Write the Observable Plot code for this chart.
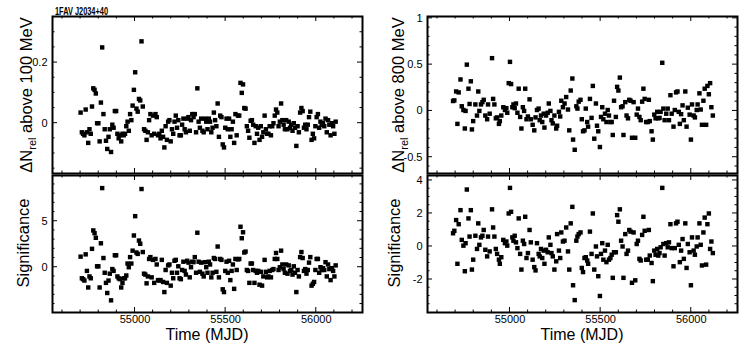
<!DOCTYPE html>
<html>
<head>
<meta charset="utf-8">
<script src="https://cdn.jsdelivr.net/npm/d3@7"></script>
<script src="https://cdn.jsdelivr.net/npm/@observablehq/plot@0.6"></script>
<style>
  html, body { margin: 0; padding: 0; background: #fff; }
  #root { position: relative; width: 747px; height: 349px; overflow: hidden; font-family: "Liberation Sans", Arial, Helvetica, sans-serif; }
  .panel { position: absolute; }
  #overlay { position: absolute; left: 0; top: 0; pointer-events: none; }
</style>
</head>
<body>
<div id="root"></div>
<script>
// ---------- DATA ----------
const sourceName = "1FAV J2034+40";

const leftTimes = [
54700,54707,54714,54721,54728,54735,54742,54749,54756,54763,
54770,54777,54784,54791,54798,54805,54812,54819,54826,54833,
54840,54847,54854,54861,54868,54875,54882,54889,54896,54903,
54910,54917,54924,54931,54938,54945,54952,54959,54966,54973,
54980,54987,54994,55001,55008,55015,55022,55029,55036,55043,
55050,55057,55064,55071,55078,55085,55092,55099,55106,55113,
55120,55127,55134,55141,55148,55155,55162,55169,55176,55183,
55190,55197,55204,55211,55218,55225,55232,55239,55246,55253,
55260,55267,55274,55281,55288,55295,55302,55309,55316,55323,
55330,55337,55344,55351,55358,55365,55372,55379,55386,55393,
55400,55407,55414,55421,55428,55435,55442,55449,55456,55463,
55470,55477,55484,55491,55498,55505,55512,55519,55526,55533,
55540,55547,55554,55561,55568,55575,55582,55589,55596,55603,
55610,55617,55624,55631,55638,55645,55652,55659,55666,55673,
55680,55687,55694,55701,55708,55715,55722,55729,55736,55743,
55750,55757,55764,55771,55778,55785,55792,55799,55806,55813,
55820,55827,55834,55841,55848,55855,55862,55869,55876,55883,
55890,55897,55904,55911,55918,55925,55932,55939,55946,55953,
55960,55967,55974,55981,55988,55995,56002,56009,56016,56023,
56030,56037,56044,56051,56058,56065,56072,56079,56086,56093,
56100,56107];

// Delta N_rel above 100 MeV
const dn100 = [
0.035,-0.03,-0.035,-0.04,0.045,-0.03,-0.065,-0.02,-0.035,0.055,
0.115,0.11,0.098,0.0,0.0,-0.06,0.068,0.25,0.03,-0.02,
-0.058,-0.085,-0.045,-0.02,-0.095,-0.005,-0.015,0.04,0.04,-0.035,
-0.05,-0.04,-0.06,-0.035,-0.04,-0.035,-0.01,0.005,-0.025,0.03,
0.01,0.058,0.11,0.168,0.048,0.038,0.08,0.075,0.27,0.055,
-0.02,-0.025,-0.055,-0.03,0.01,0.03,-0.04,0.025,-0.035,0.03,
0.02,-0.04,-0.035,-0.05,-0.025,-0.045,-0.08,-0.01,-0.055,0.005,
0.01,-0.06,-0.02,-0.035,0.005,0.025,-0.015,0.01,-0.04,-0.04,
-0.005,0.015,-0.02,-0.03,0.015,0.02,-0.025,0.01,0.03,0.02,
0.03,-0.03,0.115,0.005,-0.015,0.015,-0.025,-0.03,0.015,0.005,
-0.02,0.015,0.005,-0.03,-0.015,0.035,0.01,-0.01,0.065,-0.045,
0.025,0.02,-0.07,-0.08,-0.015,0.015,-0.02,0.015,-0.045,-0.02,
0.005,-0.065,0.03,-0.04,0.025,0.025,0.133,0.1,0.128,0.05,
0.048,-0.01,-0.025,-0.048,0.008,0.01,-0.005,-0.065,-0.01,-0.035,
-0.015,-0.055,-0.01,-0.045,-0.03,0.025,-0.02,-0.035,-0.035,-0.01,
-0.04,-0.01,0.0,0.025,0.045,0.035,-0.01,0.005,0.065,0.01,
-0.005,-0.02,0.01,-0.02,0.005,-0.015,-0.005,-0.025,0.0,-0.015,
-0.075,-0.01,-0.03,0.035,0.05,0.04,-0.015,-0.005,-0.02,-0.005,
0.02,0.038,-0.055,-0.035,-0.05,-0.01,0.02,0.03,-0.015,0.005,
-0.005,0.0,-0.01,0.015,-0.03,0.01,-0.005,-0.04,0.0,-0.01,
-0.035,0.005];

// Significance (100 MeV)
const sig100 = [
1.15,-1.2,-1.3,-1.45,1.4,-0.4,-2.2,-1.0,-1.2,2.0,
4.0,3.7,3.2,0.1,0.1,-2.2,2.6,8.6,1.0,-0.6,
-1.7,-2.8,-1.45,-0.7,-3.6,-0.2,-0.4,1.3,1.3,-1.0,
-1.2,-1.3,-2.2,-1.7,-1.2,-1.2,-0.9,0.4,0.0,1.1,
0.4,1.8,3.45,5.55,1.6,1.45,2.9,2.55,8.5,1.65,
-0.7,-0.8,-1.75,-1.0,0.9,1.1,-1.1,0.8,-1.7,0.9,
0.3,-1.4,-1.45,-1.4,0.8,-1.6,-2.7,-0.3,-1.7,0.2,
0.3,-2.0,-0.6,-1.2,0.7,0.8,-0.6,0.1,-1.2,-1.3,
-0.3,0.6,-0.4,-0.8,0.7,0.5,-1.1,0.0,0.6,0.55,
1.1,-0.6,3.75,0.6,-0.5,0.5,-0.7,-1.0,0.55,0.0,
-0.6,0.6,0.3,-1.1,-0.6,1.0,0.9,-0.5,2.25,-1.1,
0.9,0.8,-2.4,-2.7,-0.4,0.6,-0.6,0.7,-1.4,-0.4,
0.3,-2.35,0.9,-0.3,0.85,0.9,4.4,3.15,3.8,1.6,
1.7,-0.3,-0.4,-1.7,0.4,0.4,-0.3,-1.7,-0.4,-0.6,
-0.4,-1.9,-0.5,-2.0,-1.0,0.8,-0.5,-1.1,-1.0,-0.4,
-1.1,-0.3,-0.2,0.9,1.55,0.9,-0.3,0.0,1.8,0.3,
-0.2,-0.6,0.3,-0.7,0.2,-0.4,-0.3,-0.8,0.1,-0.6,
-2.7,-0.3,-1.0,1.1,1.65,1.0,-0.4,-0.2,-0.7,-0.3,
0.5,1.1,-2.0,-1.8,-1.6,-0.3,0.9,0.9,-0.6,0.0,
-0.3,-0.1,-0.3,0.55,-1.0,0.3,-0.2,-1.4,-0.1,-0.4,
-1.0,0.2];

const rightTimes = [
54686,54693,54703,54710,54717,54727,54734,54743,54751,54755,
54762,54771,54777,54784,54790,54797,54809,54818,54825,54831,
54840,54848,54855,54864,54874,54879,54888,54901,54907,54914,
54922,54929,54939,54944,54952,54963,54972,54980,54985,54993,
55000,55006,55013,55019,55026,55033,55041,55048,55056,55063,
55071,55078,55084,55091,55099,55108,55115,55125,55134,55141,
55149,55158,55164,55171,55178,55186,55190,55199,55208,55214,
55223,55229,55236,55245,55255,55260,55270,55277,55283,55292,
55301,55310,55320,55327,55335,55344,55348,55357,55366,55372,
55379,55389,55396,55403,55411,55418,55426,55431,55441,55450,
55457,55465,55474,55480,55487,55496,55502,55509,55515,55524,
55532,55539,55546,55554,55561,55567,55574,55584,55591,55598,
55606,55613,55621,55626,55636,55643,55651,55658,55665,55673,
55682,55691,55699,55706,55714,55721,55729,55736,55743,55751,
55760,55766,55771,55781,55788,55796,55803,55812,55818,55825,
55831,55840,55846,55853,55862,55870,55877,55885,55892,55902,
55909,55916,55924,55931,55937,55944,55952,55959,55967,55974,
55981,55991,55998,56004,56013,56020,56030,56035,56045,56052,
56059,56067,56074,56082,56089,56097,56104,56111,56119];

// Delta N_rel above 800 MeV
const dn800 = [
0.107,0.114,0.21,-0.14,0.2,0.34,0.05,0.01,-0.19,0.0,
0.5,0.24,0.075,0.32,-0.2,-0.11,0.07,-0.05,0.21,0.0,
0.07,0.095,0.12,-0.05,-0.09,0.07,-0.03,0.57,0.13,0.07,
-0.08,-0.07,-0.14,-0.11,-0.05,0.04,0.01,0.03,-0.02,0.3,
0.53,0.29,0.04,0.07,0.03,0.08,-0.02,0.24,-0.065,-0.19,
0.04,0.0,0.24,-0.09,-0.06,0.125,-0.09,-0.15,-0.21,-0.07,
0.01,0.025,-0.1,-0.05,-0.12,-0.03,-0.18,-0.05,-0.02,0.08,
0.0,-0.1,-0.135,-0.05,-0.19,-0.16,-0.01,-0.06,0.11,0.04,
0.08,0.15,0.015,-0.21,0.22,0.35,-0.31,-0.42,0.05,0.025,
0.1,0.12,-0.09,-0.22,-0.21,0.025,-0.12,-0.17,0.13,-0.075,
0.27,-0.3,0.08,-0.16,-0.22,-0.39,-0.065,0.04,-0.09,-0.03,
-0.12,0.01,-0.05,-0.12,-0.12,-0.26,0.11,-0.065,0.26,0.22,
0.36,0.04,0.05,-0.26,0.095,-0.05,-0.08,0.12,0.11,-0.29,
0.095,-0.29,-0.04,0.025,-0.065,-0.1,0.1,0.24,0.13,-0.12,
-0.12,0.12,-0.11,-0.22,-0.31,-0.04,-0.08,-0.01,-0.08,-0.075,
-0.01,0.52,0.025,-0.1,-0.03,0.025,-0.1,0.17,-0.03,-0.17,
0.01,0.2,0.21,-0.01,-0.14,-0.035,0.06,-0.1,0.21,-0.17,
0.035,-0.04,-0.31,0.07,-0.05,-0.07,0.01,0.07,0.19,0.015,
-0.15,0.11,0.24,-0.15,0.27,0.18,0.3,0.04,-0.05];

// Significance (800 MeV)
const sig800 = [
0.8,0.95,1.6,-1.05,1.35,2.2,0.4,0.05,-1.5,0.2,
3.45,1.7,0.6,2.2,-1.4,-0.8,0.65,-0.15,1.4,0.1,
0.55,0.65,1.0,-0.2,-0.6,0.6,-0.3,2.25,1.15,0.6,
-0.15,-0.45,-0.8,-1.05,-0.65,0.4,0.2,0.3,0.05,2.0,
3.55,2.1,0.55,0.35,0.65,0.25,-0.1,1.7,-0.45,-1.4,
0.35,0.15,1.8,-0.7,-0.4,1.0,0.25,-0.8,-1.25,-1.45,
0.2,-0.45,-0.6,-0.15,-0.7,-0.25,-1.05,-0.2,-0.35,0.55,
0.1,-0.4,-0.6,-1.4,-0.9,0.75,-0.25,-0.7,0.85,0.3,
0.35,1.15,-0.3,-1.4,1.4,2.4,-2.35,-3.25,0.35,0.6,
0.75,0.85,-1.3,-1.55,-0.7,-0.65,-0.85,-1.05,0.9,-0.45,
2.0,-1.4,0.0,-0.6,-1.8,-3.0,-0.45,0.2,-0.8,-0.25,
-0.95,0.1,-0.8,-0.7,-0.5,-1.9,-0.35,-0.35,1.9,1.5,
2.25,0.35,0.0,-1.9,0.75,-0.45,-0.25,1.0,0.9,-2.2,
0.85,-2.05,0.15,0.35,-0.75,-0.85,0.7,1.8,0.95,-0.8,
-0.8,1.0,-0.55,-1.0,-2.1,-0.25,-0.5,-0.15,-0.55,-0.4,
-0.05,3.55,0.15,-0.55,0.2,-0.05,0.25,1.35,-0.1,-1.2,
-0.1,1.4,1.5,0.1,-0.95,-0.25,0.45,-0.75,1.4,-1.3,
0.15,-0.35,-2.35,0.55,-0.25,-0.5,0.0,0.55,1.4,0.1,
-1.15,0.85,1.75,-1.1,1.35,2.0,-0.15,0.3,-0.4];

// Tick values
const xMajorTicks = [55000, 55500, 56000];
const xMinorTicks = [54600,54700,54800,54900,55100,55200,55300,55400,55600,55700,55800,55900,56100,56200];
const dn100Labels = [0, 0.2];
const dn100Minor = [-0.15,-0.1,-0.05,0.05,0.1,0.15,0.25,0.3,0.35];
const sig100Labels = [0, 5];
const sig100Minor = [-4,-3,-2,-1,1,2,3,4,6,7,8,9];
const dn800Labels = [-0.5, 0, 0.5, 1];
const dn800Minor = [-0.6,-0.4,-0.3,-0.2,-0.1,0.1,0.2,0.3,0.4,0.6,0.7,0.8,0.9];
const sig800Labels = [-2, 0, 2, 4];
const sig800Minor = [-3.5,-3,-2.5,-1.5,-1,-0.5,0.5,1,1.5,2.5,3,3.5];

// ---------- LAYOUT ----------
const xDomain = [54545, 56255];
const FONT = "'Liberation Sans', Arial, Helvetica, sans-serif";

const panels = [
  {left: 52,  top: 16,  w: 310, h: 157, t: leftTimes,  v: dn100,  yDomain: [-0.166, 0.352], yLabels: dn100Labels, yMinor: dn100Minor, xLabels: false},
  {left: 52,  top: 175, w: 310, h: 137, t: leftTimes,  v: sig100, yDomain: [-4.92, 9.97],   yLabels: sig100Labels, yMinor: sig100Minor, xLabels: true},
  {left: 427, top: 16,  w: 310, h: 157, t: rightTimes, v: dn800,  yDomain: [-0.676, 1.02],  yLabels: dn800Labels, yMinor: dn800Minor, xLabels: false},
  {left: 427, top: 175, w: 310, h: 137, t: rightTimes, v: sig800, yDomain: [-4.0, 4.3],     yLabels: sig800Labels, yMinor: sig800Minor, xLabels: true}
];

function tickMark(p) {
  return (index, scales, values, dims) => {
    const {width, height, marginTop, marginRight, marginBottom, marginLeft} = dims;
    const x0 = marginLeft, x1 = width - marginRight, y0 = marginTop, y1 = height - marginBottom;
    const g = d3.create("svg:g").attr("stroke", "black").attr("stroke-width", 1);
    const add = (a, b, c, d) => g.append("line").attr("x1", a).attr("y1", b).attr("x2", c).attr("y2", d);
    for (const v of xMajorTicks) { const X = scales.x(v); add(X, y1, X, y1 - 5); add(X, y0, X, y0 + 5); }
    for (const v of xMinorTicks) { const X = scales.x(v); add(X, y1, X, y1 - 2.5); add(X, y0, X, y0 + 2.5); }
    for (const v of p.yLabels) { const Y = scales.y(v); add(x0, Y, x0 + 5, Y); add(x1, Y, x1 - 5, Y); }
    for (const v of p.yMinor) { const Y = scales.y(v); add(x0, Y, x0 + 2.5, Y); add(x1, Y, x1 - 2.5, Y); }
    return g.node();
  };
}

const root = document.getElementById("root");

for (const p of panels) {
  const ml = 50, mr = 6, mt = 4, mb = p.xLabels ? 24 : 4;
  const data = p.t.map((t, i) => ({t, v: p.v[i]}));
  const marks = [
    Plot.dot(data, {x: "t", y: "v", symbol: "square", r: 2.5, fill: "black", stroke: "none"}),
    tickMark(p),
    Plot.frame({stroke: "black", strokeWidth: 2}),
    Plot.axisY(p.yLabels, {tickSize: 0, tickPadding: 5, tickFormat: d => String(d), label: null, fontSize: 11})
  ];
  if (p.xLabels) marks.push(Plot.axisX(xMajorTicks, {tickSize: 0, tickPadding: 3, tickFormat: d => String(d), label: null, fontSize: 11}));
  const chart = Plot.plot({
    width: p.w + ml + mr,
    height: p.h + mt + mb,
    marginLeft: ml, marginRight: mr, marginTop: mt, marginBottom: mb,
    x: {domain: xDomain, axis: p.xLabels ? undefined : null},
    y: {domain: p.yDomain},
    style: {fontFamily: FONT, fontSize: "11px", background: "transparent", color: "black", overflow: "visible"},
    marks
  });
  const div = document.createElement("div");
  div.className = "panel";
  div.style.left = (p.left - ml) + "px";
  div.style.top = (p.top - mt) + "px";
  div.appendChild(chart);
  root.appendChild(div);
}

// ---------- TEXT OVERLAY ----------
const svg = d3.select(root).append("svg").attr("id", "overlay")
  .attr("width", 747).attr("height", 349)
  .style("font-family", FONT).attr("fill", "black");

svg.append("text").attr("x", 55).attr("y", 15)
  .attr("font-size", 10.5).attr("font-weight", "bold")
  .attr("textLength", 53).attr("lengthAdjust", "spacingAndGlyphs")
  .text(sourceName);

function dnLabel(x, y, energy) {
  const t = svg.append("text").attr("transform", `translate(${x},${y}) rotate(-90)`)
    .attr("text-anchor", "middle").attr("font-size", 16.5);
  t.append("tspan").text("ΔN");
  t.append("tspan").attr("font-size", 11).attr("dy", 4).text("rel");
  t.append("tspan").attr("dy", -4).text(` above ${energy} MeV`);
}
function plainLabel(x, y, s) {
  svg.append("text").attr("transform", `translate(${x},${y}) rotate(-90)`)
    .attr("text-anchor", "middle").attr("font-size", 16.5).text(s);
}
dnLabel(32, 95, 100);
plainLabel(29, 243, "Significance");
dnLabel(404, 95, 800);
plainLabel(400, 243, "Significance");

svg.append("text").attr("x", 207).attr("y", 340).attr("text-anchor", "middle").attr("font-size", 16).text("Time (MJD)");
svg.append("text").attr("x", 582).attr("y", 340).attr("text-anchor", "middle").attr("font-size", 16).text("Time (MJD)");
</script>
</body>
</html>
